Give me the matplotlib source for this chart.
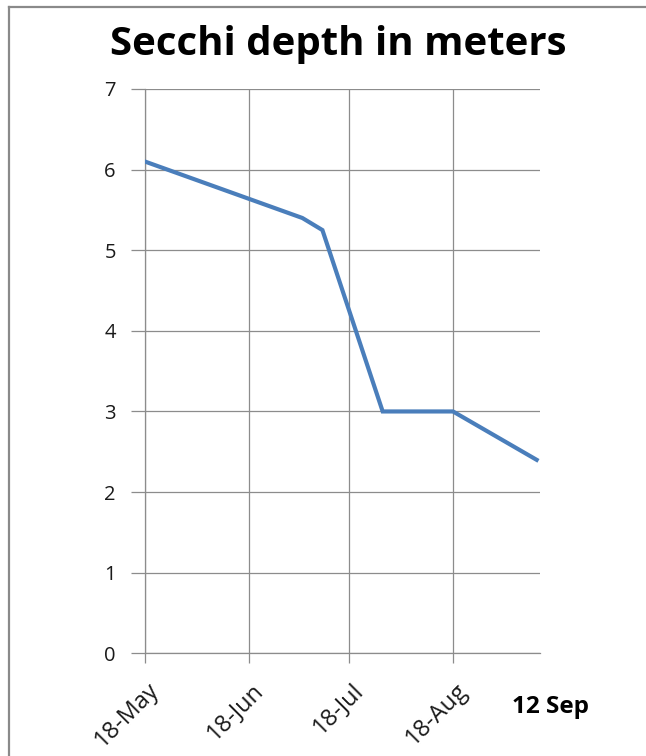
import matplotlib
matplotlib.use("Agg")
import matplotlib.pyplot as plt
from matplotlib.lines import Line2D
import matplotlib.transforms as mtransforms
import datetime as dt

dates = ["2013-05-18", "2013-07-04", "2013-07-10", "2013-07-28", "2013-08-18", "2013-09-12"]
depth = [6.1, 5.4, 5.25, 3.0, 3.0, 2.4]
tick_dates = ["2013-05-18", "2013-06-18", "2013-07-18", "2013-08-18"]
tick_labels = ["18-May", "18-Jun", "18-Jul", "18-Aug"]
y_ticks = [0, 1, 2, 3, 4, 5, 6, 7]
title = "Secchi depth in meters"
end_label = "12 Sep"

def d(s):
    return dt.datetime.strptime(s, "%Y-%m-%d")

plt.rcParams['font.family'] = ['Open Sans', 'DejaVu Sans']

W, H = 646, 756
fig = plt.figure(figsize=(W / 100, H / 100), dpi=100)
fig.patch.set_facecolor("white")

ax = fig.add_axes([145 / W, 1 - 653.3 / H, (540 - 145) / W, (653.3 - 89) / H])

x = [d(s) for s in dates]
ax.plot(x, depth, color="#4a7ebb", linewidth=3.0, solid_joinstyle="miter", zorder=3)

ax.set_xlim(d("2013-05-18"), d("2013-09-13"))
ax.set_ylim(0, 7)
ax.set_yticks(y_ticks)
ax.set_xticks([d(s) for s in tick_dates], tick_labels)
ax.tick_params(axis="x", length=7, width=0.9, color="#8c8c8c", pad=17,
               labelsize=17, labelrotation=45, labelcolor="#1a1a1a")
ax.tick_params(axis="y", length=10, width=0.9, color="#8c8c8c", pad=11,
               labelsize=14.5, labelcolor="#1a1a1a")

ax.grid(True, color="#8c8c8c", linewidth=0.9)
ax.set_axisbelow(True)
for s in ["top", "right"]:
    ax.spines[s].set_visible(False)
for s in ["left", "bottom"]:
    ax.spines[s].set_color("#8c8c8c")
    ax.spines[s].set_linewidth(0.9)

fig.canvas.draw()
offset = mtransforms.ScaledTranslation(11 / 100, 0, fig.dpi_scale_trans)
for lbl in ax.get_xticklabels():
    lbl.set_horizontalalignment("right")
    lbl.set_verticalalignment("center")
    lbl.set_rotation_mode("anchor")
    lbl.set_transform(lbl.get_transform() + offset)

fig.text(338 / W, 1 - 45 / H, title, ha="center", va="center",
         fontsize=29, fontweight="bold", color="black")
fig.text(551 / W, 1 - 707 / H, end_label, ha="center", va="center",
         fontsize=17.5, fontweight="bold", color="black")

# outer frame (top and left edges visible)
fig.add_artist(Line2D([9 / W, 1.0], [1 - 7 / H, 1 - 7 / H], transform=fig.transFigure,
                      color="#8a8a8a", linewidth=1.6))
fig.add_artist(Line2D([9 / W, 9 / W], [0, 1 - 7 / H], transform=fig.transFigure,
                      color="#8a8a8a", linewidth=1.6))

fig.savefig("out.png", dpi=100)
